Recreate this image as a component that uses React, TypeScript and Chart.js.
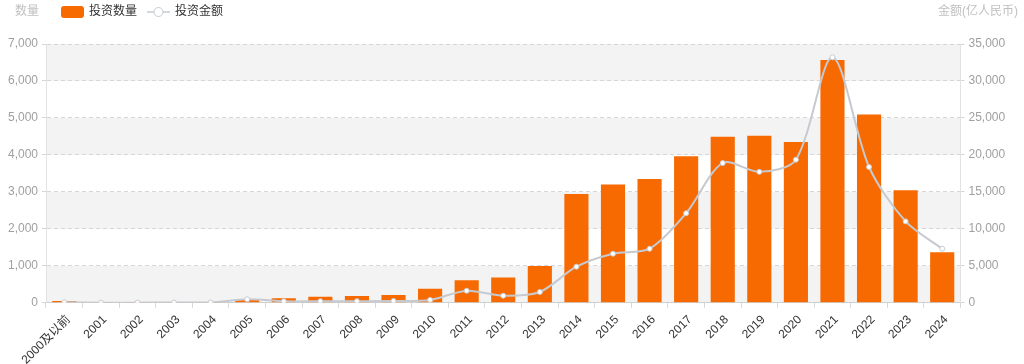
import React, { useEffect, useRef } from "react";
import { Chart, registerables } from "chart.js";

Chart.register(...registerables);

const categories = [
  "2000及以前", "2001", "2002", "2003", "2004", "2005", "2006", "2007", "2008", "2009",
  "2010", "2011", "2012", "2013", "2014", "2015", "2016", "2017", "2018", "2019",
  "2020", "2021", "2022", "2023", "2024",
];
const investCounts = [
  45, 3, 2, 3, 5, 75, 120, 160, 180, 205,
  380, 610, 680, 990, 2940, 3200, 3350, 3965, 4490, 4515,
  4345, 6570, 5095, 3045, 1365,
];
const investAmounts = [
  60, 10, 10, 20, 30, 460, 190, 200, 210, 230,
  370, 1620, 950, 1450, 4870, 6630, 7300, 12100, 18900, 17700,
  19350, 33200, 18360, 11000, 7300,
];
const leftTicks = [0, 1000, 2000, 3000, 4000, 5000, 6000, 7000];
const rightTicks = [0, 5000, 10000, 15000, 20000, 25000, 30000, 35000];

const FONT = '"Liberation Sans", Arial, "Noto Sans CJK SC", sans-serif';
const ORANGE = "#f76a02";
const LINE = "#c6cad0";

const bandsPlugin = {
  id: "bands",
  beforeDraw(chart: any) {
    const { ctx, chartArea } = chart;
    const y = chart.scales.y;
    ctx.save();
    ctx.fillStyle = "#f3f3f3";
    for (let i = 0; i < leftTicks.length - 1; i += 2) {
      const top = y.getPixelForValue(leftTicks[i + 1]);
      const bottom = y.getPixelForValue(leftTicks[i]);
      ctx.fillRect(chartArea.left, top, chartArea.right - chartArea.left, bottom - top);
    }
    ctx.restore();
  },
};

const textPlugin = {
  id: "texts",
  afterDraw(chart: any) {
    const { ctx } = chart;
    ctx.save();
    ctx.font = `12px ${FONT}`;
    ctx.textBaseline = "middle";
    ctx.fillStyle = "#c0c0c0";
    ctx.textAlign = "left";
    ctx.fillText("数量", 15, 12);
    ctx.textAlign = "right";
    ctx.fillText("金额(亿人民币)", 1018, 12);

    // legend item 1
    ctx.fillStyle = ORANGE;
    const x0 = 61, y0 = 6, w = 23, h = 12, r = 3;
    ctx.beginPath();
    ctx.moveTo(x0 + r, y0);
    ctx.lineTo(x0 + w - r, y0);
    ctx.quadraticCurveTo(x0 + w, y0, x0 + w, y0 + r);
    ctx.lineTo(x0 + w, y0 + h - r);
    ctx.quadraticCurveTo(x0 + w, y0 + h, x0 + w - r, y0 + h);
    ctx.lineTo(x0 + r, y0 + h);
    ctx.quadraticCurveTo(x0, y0 + h, x0, y0 + h - r);
    ctx.lineTo(x0, y0 + r);
    ctx.quadraticCurveTo(x0, y0, x0 + r, y0);
    ctx.fill();
    ctx.fillStyle = "#333";
    ctx.textAlign = "left";
    ctx.fillText("投资数量", 89, 12);

    // legend item 2
    ctx.strokeStyle = LINE;
    ctx.lineWidth = 1.5;
    ctx.beginPath();
    ctx.moveTo(147, 12);
    ctx.lineTo(170, 12);
    ctx.stroke();
    ctx.beginPath();
    ctx.arc(158.5, 12, 4.5, 0, Math.PI * 2);
    ctx.fillStyle = "#fff";
    ctx.fill();
    ctx.lineWidth = 1;
    ctx.stroke();
    ctx.fillStyle = "#333";
    ctx.fillText("投资金额", 175, 12);
    ctx.restore();
  },
};

export default function App() {
  const canvasRef = useRef<HTMLCanvasElement | null>(null);

  useEffect(() => {
    document.body.style.margin = "0";
    const canvas = canvasRef.current;
    if (!canvas) return;
    const chart = new Chart(canvas, {
      data: {
        labels: categories,
        datasets: [
          {
            type: "line" as const,
            label: "投资金额",
            data: investAmounts,
            yAxisID: "y1",
            borderColor: LINE,
            borderWidth: 2,
            backgroundColor: "#fff",
            pointBackgroundColor: "#fff",
            pointBorderColor: LINE,
            pointBorderWidth: 1,
            pointRadius: 2.5,
            tension: 0.3,
            order: 0,
          },
          {
            type: "bar" as const,
            label: "投资数量",
            data: investCounts,
            yAxisID: "y",
            backgroundColor: ORANGE,
            barPercentage: 0.66,
            categoryPercentage: 1,
            order: 1,
          },
        ],
      },
      options: {
        animation: false,
        responsive: false,
        maintainAspectRatio: false,
        layout: { padding: { top: 44, left: 0, right: 0, bottom: 0 } },
        plugins: {
          legend: { display: false },
          tooltip: { enabled: false },
        },
        scales: {
          x: {
            type: "category",
            offset: true,
            grid: {
              offset: true,
              drawOnChartArea: false,
              drawTicks: true,
              tickLength: 5,
              color: "#d8d8d8",
            },
            border: { display: true, color: "#cfcfcf" },
            ticks: {
              color: "#333",
              font: { family: FONT, size: 12 },
              maxRotation: 45,
              minRotation: 45,
              autoSkip: false,
              padding: 5,
              labelOffset: 4,
            },
            afterFit(scale: any) {
              scale.height = 61.3;
            },
          },
          y: {
            type: "linear",
            position: "left",
            min: 0,
            max: 7000,
            afterBuildTicks(scale: any) {
              scale.ticks = leftTicks.map((v) => ({ value: v }));
            },
            grid: {
              color: "#d6d6d6",
              tickLength: 4,
              drawTicks: true,
            },
            border: { display: true, color: "#e2e2e2", dash: [4, 3] },
            ticks: {
              color: "#a0a0a0",
              font: { family: FONT, size: 12 },
              padding: 4,
              callback: (v: any) => Number(v).toLocaleString("en-US"),
            },
            afterFit(scale: any) {
              scale.width = 46;
            },
          },
          y1: {
            type: "linear",
            position: "right",
            min: 0,
            max: 35000,
            afterBuildTicks(scale: any) {
              scale.ticks = rightTicks.map((v) => ({ value: v }));
            },
            grid: {
              drawOnChartArea: false,
              tickLength: 4,
              color: "#d6d6d6",
            },
            border: { display: true, color: "#e2e2e2" },
            ticks: {
              color: "#a0a0a0",
              font: { family: FONT, size: 12 },
              padding: 4,
              callback: (v: any) => Number(v).toLocaleString("en-US"),
            },
            afterFit(scale: any) {
              scale.width = 63.5;
            },
          },
        },
      },
      plugins: [bandsPlugin, textPlugin],
    } as any);

    return () => chart.destroy();
  }, []);

  return (
    <div style={{ width: 1024, height: 364 }}>
      <canvas ref={canvasRef} width={1024} height={364} style={{ display: "block" }} />
    </div>
  );
}
